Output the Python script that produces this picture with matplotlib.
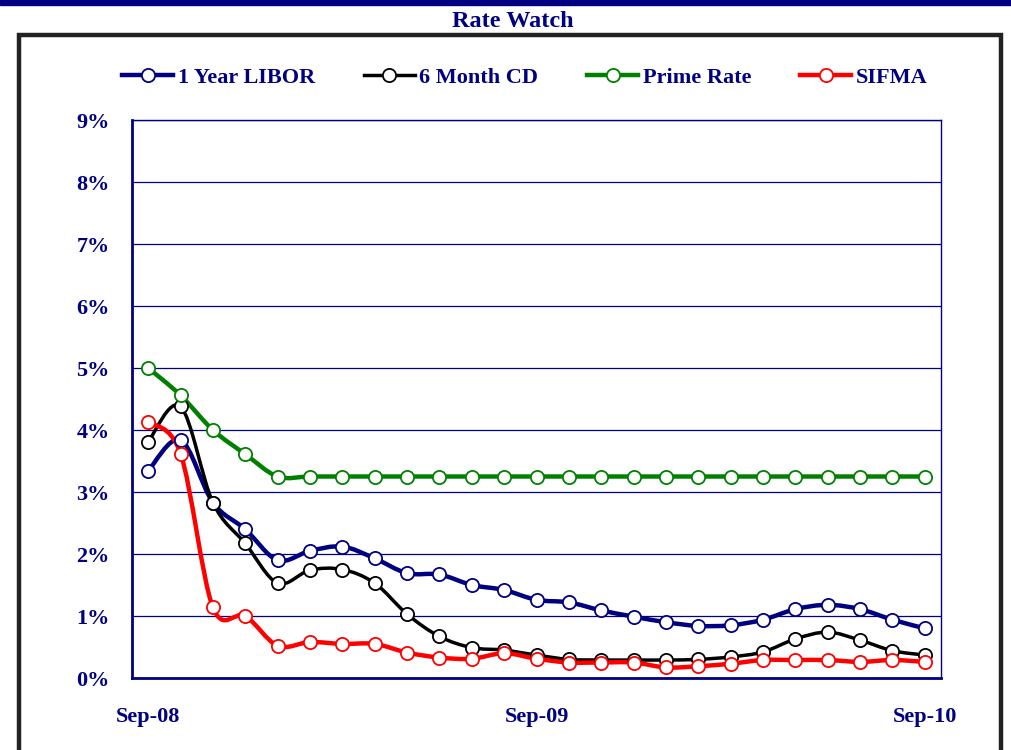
import numpy as np
import matplotlib
matplotlib.use("Agg")
import matplotlib.pyplot as plt
from matplotlib.path import Path
from matplotlib.patches import PathPatch, Rectangle
from matplotlib.lines import Line2D

# --- data (monthly, Sep-08 .. Sep-10) ---
months = list(range(25))
tick_pos = [0, 12, 24]
tick_labels = ["Sep-08", "Sep-09", "Sep-10"]

libor_1y = [3.34, 3.84, 2.83, 2.40, 1.90, 2.05, 2.12, 1.93, 1.69, 1.67,
            1.50, 1.42, 1.26, 1.22, 1.09, 0.99, 0.90, 0.84, 0.85, 0.94,
            1.11, 1.18, 1.11, 0.94, 0.80]
cd_6m = [3.81, 4.38, 2.83, 2.17, 1.53, 1.74, 1.75, 1.53, 1.03, 0.67,
         0.49, 0.45, 0.37, 0.30, 0.29, 0.29, 0.29, 0.30, 0.34, 0.42,
         0.63, 0.74, 0.61, 0.44, 0.37]
prime = [5.00, 4.56, 4.00, 3.61, 3.25, 3.25, 3.25, 3.25, 3.25, 3.25,
         3.25, 3.25, 3.25, 3.25, 3.25, 3.25, 3.25, 3.25, 3.25, 3.25,
         3.25, 3.25, 3.25, 3.25, 3.25]
sifma = [4.13, 3.62, 1.14, 1.00, 0.52, 0.58, 0.55, 0.55, 0.41, 0.33,
         0.31, 0.40, 0.31, 0.25, 0.25, 0.25, 0.17, 0.19, 0.23, 0.29,
         0.29, 0.29, 0.26, 0.29, 0.26]

series = [
    ("1 Year LIBOR", libor_1y, "#000080", 3.2),
    ("6 Month CD", cd_6m, "#000000", 2.5),
    ("Prime Rate", prime, "#008000", 3.2),
    ("SIFMA", sifma, "#ff0000", 3.2),
]

NAVY = "#000080"
FONT = "Liberation Serif"


def smooth_path(x, y, t=1 / 6):
    """Excel-like smoothed line: cubic bezier through every point."""
    x = np.asarray(x, float)
    y = np.asarray(y, float)
    n = len(x)
    verts = [(x[0], y[0])]
    codes = [Path.MOVETO]
    for i in range(n - 1):
        p0 = i - 1 if i > 0 else i
        p3 = i + 2 if i + 2 < n else i + 1
        c1 = (x[i] + (x[i + 1] - x[p0]) * t, y[i] + (y[i + 1] - y[p0]) * t)
        c2 = (x[i + 1] - (x[p3] - x[i]) * t, y[i + 1] - (y[p3] - y[i]) * t)
        verts += [c1, c2, (x[i + 1], y[i + 1])]
        codes += [Path.CURVE4] * 3
    return Path(verts, codes)


fig = plt.figure(figsize=(10.11, 7.5), dpi=100)

# top band and outer frame
fig.patches.append(Rectangle((0, 0.993), 1, 0.007, transform=fig.transFigure,
                             color=NAVY, zorder=0))
fig.patches.append(Rectangle((19 / 1011, -0.02), 982 / 1011, 0.974,
                             transform=fig.transFigure, fill=False,
                             edgecolor="#222222", linewidth=3.2, zorder=0))
fig.text(0.5075, 0.971, "Rate Watch", ha="center", va="center",
         fontsize=17.5, fontweight="bold", color=NAVY, family=FONT)

ax = fig.add_axes([132 / 1011, 72 / 750, 809 / 1011, 558 / 750])

handles = []
for name, vals, col, lw in series:
    patch = PathPatch(smooth_path(months, vals), facecolor="none",
                      edgecolor=col, linewidth=lw, zorder=3, capstyle="round",
                      joinstyle="round")
    ax.add_patch(patch)
    ax.plot(months, vals, linestyle="none", marker="o", markersize=9.5,
            markerfacecolor="white", markeredgecolor=col,
            markeredgewidth=1.3, zorder=4)
    handles.append(Line2D([], [], color=col, linewidth=lw, marker="o",
                          markersize=9.5, markerfacecolor="white",
                          markeredgecolor=col, markeredgewidth=1.3))

ax.set_xlim(-0.5, 24.5)
ax.set_ylim(0, 9)
ax.set_yticks(range(10))
ax.set_yticklabels([f"{v}%" for v in range(10)])
ax.set_xticks(tick_pos)
ax.set_xticklabels(tick_labels)
ax.yaxis.grid(True, color=NAVY, linewidth=0.9)
ax.set_axisbelow(True)
ax.tick_params(length=0)
ax.tick_params(axis="y", pad=16)
ax.tick_params(axis="x", pad=21)
for lab in ax.get_xticklabels() + ax.get_yticklabels():
    lab.set_fontfamily(FONT)
    lab.set_fontweight("bold")
    lab.set_fontsize(16)
    lab.set_color(NAVY)
for side in ["top", "right"]:
    ax.spines[side].set_color(NAVY)
    ax.spines[side].set_linewidth(1.0)
for side in ["left", "bottom"]:
    ax.spines[side].set_color(NAVY)
    ax.spines[side].set_linewidth(2.0)

fig.legend(handles, [s[0] for s in series], loc="center",
           bbox_to_anchor=(0.519, 0.897), ncol=4, frameon=False,
           handlelength=2.3, handletextpad=0.2, columnspacing=2.2,
           prop={"family": FONT, "weight": "bold", "size": 16},
           labelcolor=NAVY)

fig.savefig("out.png", dpi=100)
